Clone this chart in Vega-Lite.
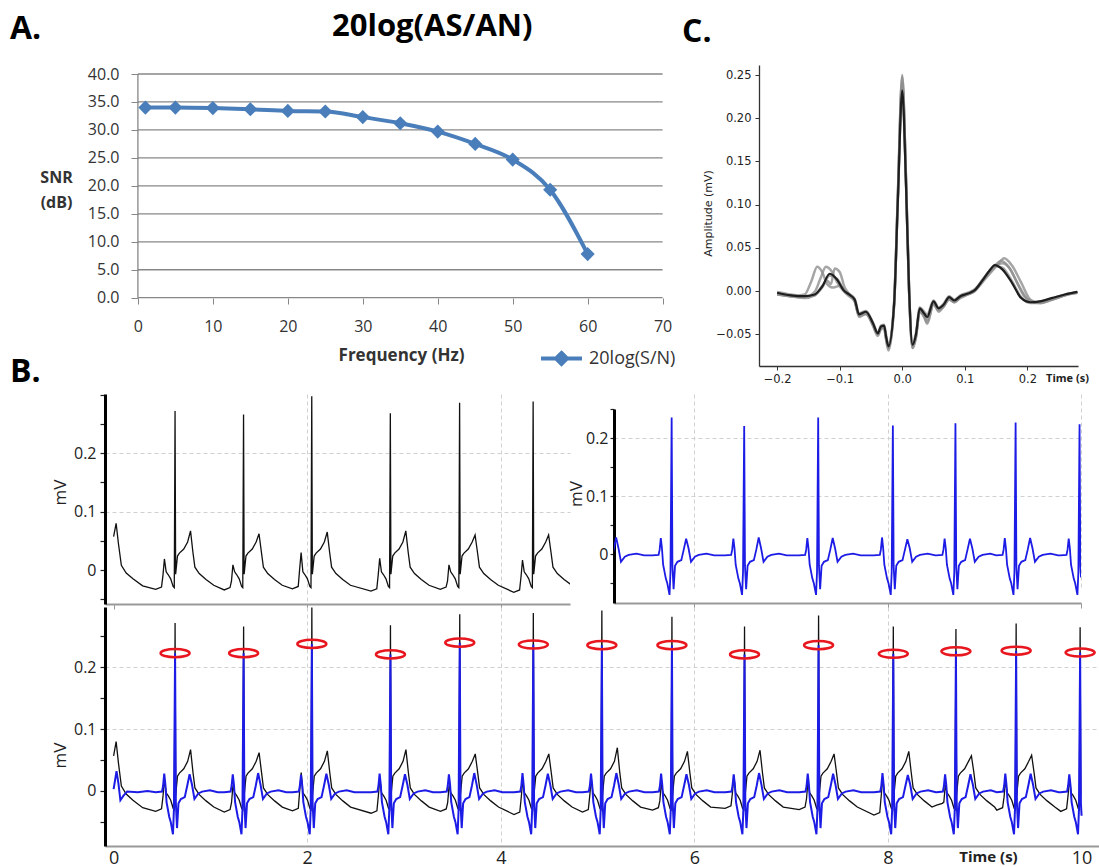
{
"$schema": "https://vega.github.io/schema/vega-lite/v6.json",
"background": "white",
"padding": {"left": 10, "top": 11, "right": 0, "bottom": 0},
"title": {"text": "A.", "anchor": "start", "frame": "bounds", "offset": -59.5, "fontSize": 32, "fontWeight": "bold", "font": "Open Sans", "baseline": "alphabetic", "color": "#000"},
"columns": 2,
"align": "none",
"bounds": "flush",
"spacing": {"row": 3, "column": 44},
"config": {"view": {"stroke": null}, "font": "Open Sans", "axis": {"labelFlush": false, "labelOverlap": false, "labelFont": "Open Sans", "titleFont": "Open Sans"}},
"datasets": {
"snr": [
{"f":1,"snr":34.0,"s":"20log(S/N)"},{"f":5,"snr":34.0,"s":"20log(S/N)"},{"f":10,"snr":33.9,"s":"20log(S/N)"},{"f":15,"snr":33.7,"s":"20log(S/N)"},{"f":20,"snr":33.4,"s":"20log(S/N)"},{"f":25,"snr":33.3,"s":"20log(S/N)"},{"f":30,"snr":32.3,"s":"20log(S/N)"},{"f":35,"snr":31.2,"s":"20log(S/N)"},{"f":40,"snr":29.7,"s":"20log(S/N)"},{"f":45,"snr":27.5,"s":"20log(S/N)"},{"f":50,"snr":24.7,"s":"20log(S/N)"},{"f":55,"snr":19.3,"s":"20log(S/N)"},{"f":60,"snr":7.8,"s":"20log(S/N)"}
],
"beats": [
{"t":0.635,"v":0.223},{"t":1.343,"v":0.223},{"t":2.048,"v":0.238},{"t":2.86,"v":0.221},{"t":3.576,"v":0.24},{"t":4.336,"v":0.237},{"t":5.044,"v":0.236},{"t":5.768,"v":0.236},{"t":6.518,"v":0.221},{"t":7.283,"v":0.236},{"t":8.055,"v":0.222},{"t":8.702,"v":0.226},{"t":9.324,"v":0.227},{"t":9.985,"v":0.224}
],
"blk": [
{"t":0,"v":0.057},{"t":0.026,"v":0.08},{"t":0.05,"v":0.045},{"t":0.08,"v":0.008},{"t":0.13,"v":-0.005},{"t":0.2,"v":-0.015},{"t":0.3,"v":-0.027},
{"t":0.435,"v":-0.033},{"t":0.495,"v":-0.029},{"t":0.51,"v":-0.009},{"t":0.525,"v":0.019},{"t":0.543,"v":-0.003},{"t":0.565,"v":-0.008},{"t":0.59,"v":-0.015},{"t":0.615,"v":-0.028},{"t":0.627,"v":-0.03},{"t":0.635,"v":0.272},{"t":0.641,"v":-0.007},{"t":0.66,"v":0.024},{"t":0.68,"v":0.029},{"t":0.725,"v":0.036},{"t":0.765,"v":0.048},{"t":0.795,"v":0.067},{"t":0.82,"v":0.03},{"t":0.84,"v":0.005},{"t":0.885,"v":-0.006},{"t":0.955,"v":-0.016},{"t":1.035,"v":-0.026},
{"t":1.143,"v":-0.034},{"t":1.203,"v":-0.03},{"t":1.218,"v":-0.019},{"t":1.233,"v":0.009},{"t":1.251,"v":-0.003},{"t":1.273,"v":-0.008},{"t":1.298,"v":-0.015},{"t":1.323,"v":-0.028},{"t":1.335,"v":-0.03},{"t":1.343,"v":0.266},{"t":1.349,"v":-0.007},{"t":1.368,"v":0.024},{"t":1.388,"v":0.029},{"t":1.433,"v":0.036},{"t":1.473,"v":0.048},{"t":1.503,"v":0.062},{"t":1.528,"v":0.03},{"t":1.548,"v":0.005},{"t":1.593,"v":-0.006},{"t":1.663,"v":-0.016},{"t":1.743,"v":-0.026},
{"t":1.848,"v":-0.032},{"t":1.908,"v":-0.028},{"t":1.923,"v":0.002},{"t":1.938,"v":0.03},{"t":1.956,"v":-0.003},{"t":1.978,"v":-0.008},{"t":2.003,"v":-0.015},{"t":2.028,"v":-0.028},{"t":2.04,"v":-0.03},{"t":2.048,"v":0.297},{"t":2.054,"v":-0.007},{"t":2.073,"v":0.024},{"t":2.093,"v":0.029},{"t":2.138,"v":0.036},{"t":2.178,"v":0.048},{"t":2.208,"v":0.065},{"t":2.233,"v":0.03},{"t":2.253,"v":0.005},{"t":2.298,"v":-0.006},{"t":2.368,"v":-0.016},{"t":2.448,"v":-0.026},
{"t":2.66,"v":-0.036},{"t":2.72,"v":-0.032},{"t":2.735,"v":-0.008},{"t":2.75,"v":0.02},{"t":2.768,"v":-0.003},{"t":2.79,"v":-0.008},{"t":2.815,"v":-0.015},{"t":2.84,"v":-0.028},{"t":2.852,"v":-0.03},{"t":2.86,"v":0.268},{"t":2.866,"v":-0.007},{"t":2.885,"v":0.024},{"t":2.905,"v":0.029},{"t":2.95,"v":0.036},{"t":2.99,"v":0.048},{"t":3.02,"v":0.067},{"t":3.045,"v":0.03},{"t":3.065,"v":0.005},{"t":3.11,"v":-0.006},{"t":3.18,"v":-0.016},{"t":3.26,"v":-0.026},
{"t":3.376,"v":-0.033},{"t":3.436,"v":-0.029},{"t":3.451,"v":-0.019},{"t":3.466,"v":0.009},{"t":3.484,"v":-0.003},{"t":3.506,"v":-0.008},{"t":3.531,"v":-0.015},{"t":3.556,"v":-0.028},{"t":3.568,"v":-0.03},{"t":3.576,"v":0.286},{"t":3.582,"v":-0.007},{"t":3.601,"v":0.024},{"t":3.621,"v":0.029},{"t":3.666,"v":0.036},{"t":3.706,"v":0.048},{"t":3.736,"v":0.06},{"t":3.761,"v":0.03},{"t":3.781,"v":0.005},{"t":3.826,"v":-0.006},{"t":3.896,"v":-0.016},{"t":3.976,"v":-0.026},
{"t":4.136,"v":-0.038},{"t":4.196,"v":-0.034},{"t":4.211,"v":-0.011},{"t":4.226,"v":0.017},{"t":4.244,"v":-0.003},{"t":4.266,"v":-0.008},{"t":4.291,"v":-0.015},{"t":4.316,"v":-0.028},{"t":4.328,"v":-0.03},{"t":4.336,"v":0.288},{"t":4.342,"v":-0.007},{"t":4.361,"v":0.024},{"t":4.381,"v":0.029},{"t":4.426,"v":0.036},{"t":4.466,"v":0.048},{"t":4.496,"v":0.06},{"t":4.521,"v":0.03},{"t":4.541,"v":0.005},{"t":4.586,"v":-0.006},{"t":4.656,"v":-0.016},{"t":4.736,"v":-0.026},
{"t":4.844,"v":-0.034},{"t":4.904,"v":-0.03},{"t":4.919,"v":-0.008},{"t":4.934,"v":0.02},{"t":4.952,"v":-0.003},{"t":4.974,"v":-0.008},{"t":4.999,"v":-0.015},{"t":5.024,"v":-0.028},{"t":5.036,"v":-0.03},{"t":5.044,"v":0.292},{"t":5.05,"v":-0.007},{"t":5.069,"v":0.024},{"t":5.089,"v":0.029},{"t":5.134,"v":0.036},{"t":5.174,"v":0.048},{"t":5.204,"v":0.07},{"t":5.229,"v":0.03},{"t":5.249,"v":0.005},{"t":5.294,"v":-0.006},{"t":5.364,"v":-0.016},{"t":5.444,"v":-0.026},
{"t":5.568,"v":-0.031},{"t":5.628,"v":-0.027},{"t":5.643,"v":-0.016},{"t":5.658,"v":0.012},{"t":5.676,"v":-0.003},{"t":5.698,"v":-0.008},{"t":5.723,"v":-0.015},{"t":5.748,"v":-0.028},{"t":5.76,"v":-0.03},{"t":5.768,"v":0.282},{"t":5.774,"v":-0.007},{"t":5.793,"v":0.024},{"t":5.813,"v":0.029},{"t":5.858,"v":0.036},{"t":5.898,"v":0.048},{"t":5.928,"v":0.064},{"t":5.953,"v":0.03},{"t":5.973,"v":0.005},{"t":6.018,"v":-0.006},{"t":6.088,"v":-0.016},{"t":6.168,"v":-0.026},
{"t":6.318,"v":-0.028},{"t":6.378,"v":-0.024},{"t":6.393,"v":-0.003},{"t":6.408,"v":0.025},{"t":6.426,"v":-0.003},{"t":6.448,"v":-0.008},{"t":6.473,"v":-0.015},{"t":6.498,"v":-0.028},{"t":6.51,"v":-0.03},{"t":6.518,"v":0.266},{"t":6.524,"v":-0.007},{"t":6.543,"v":0.024},{"t":6.563,"v":0.029},{"t":6.608,"v":0.036},{"t":6.648,"v":0.048},{"t":6.678,"v":0.066},{"t":6.703,"v":0.03},{"t":6.723,"v":0.005},{"t":6.768,"v":-0.006},{"t":6.838,"v":-0.016},{"t":6.918,"v":-0.026},
{"t":7.083,"v":-0.03},{"t":7.143,"v":-0.026},{"t":7.158,"v":-0.013},{"t":7.173,"v":0.015},{"t":7.191,"v":-0.003},{"t":7.213,"v":-0.008},{"t":7.238,"v":-0.015},{"t":7.263,"v":-0.028},{"t":7.275,"v":-0.03},{"t":7.283,"v":0.284},{"t":7.289,"v":-0.007},{"t":7.308,"v":0.024},{"t":7.328,"v":0.029},{"t":7.373,"v":0.036},{"t":7.413,"v":0.048},{"t":7.443,"v":0.06},{"t":7.468,"v":0.03},{"t":7.488,"v":0.005},{"t":7.533,"v":-0.006},{"t":7.603,"v":-0.016},{"t":7.683,"v":-0.026},
{"t":7.855,"v":-0.039},{"t":7.915,"v":-0.035},{"t":7.93,"v":-0.008},{"t":7.945,"v":0.02},{"t":7.963,"v":-0.003},{"t":7.985,"v":-0.008},{"t":8.01,"v":-0.015},{"t":8.035,"v":-0.028},{"t":8.047,"v":-0.03},{"t":8.055,"v":0.266},{"t":8.061,"v":-0.007},{"t":8.08,"v":0.024},{"t":8.1,"v":0.029},{"t":8.145,"v":0.036},{"t":8.185,"v":0.048},{"t":8.215,"v":0.064},{"t":8.24,"v":0.03},{"t":8.26,"v":0.005},{"t":8.305,"v":-0.006},{"t":8.375,"v":-0.016},{"t":8.455,"v":-0.026},
{"t":8.502,"v":-0.023},{"t":8.562,"v":-0.02},{"t":8.577,"v":-0.018},{"t":8.592,"v":0.01},{"t":8.61,"v":-0.003},{"t":8.632,"v":-0.008},{"t":8.657,"v":-0.015},{"t":8.682,"v":-0.028},{"t":8.694,"v":-0.03},{"t":8.702,"v":0.262},{"t":8.708,"v":-0.007},{"t":8.727,"v":0.024},{"t":8.747,"v":0.029},{"t":8.792,"v":0.036},{"t":8.832,"v":0.048},{"t":8.862,"v":0.057},{"t":8.887,"v":0.03},{"t":8.907,"v":0.005},{"t":8.952,"v":-0.006},{"t":9.022,"v":-0.016},{"t":9.102,"v":-0.026},
{"t":9.124,"v":-0.031},{"t":9.184,"v":-0.027},{"t":9.199,"v":-0.01},{"t":9.214,"v":0.018},{"t":9.232,"v":-0.003},{"t":9.254,"v":-0.008},{"t":9.279,"v":-0.015},{"t":9.304,"v":-0.028},{"t":9.316,"v":-0.03},{"t":9.324,"v":0.271},{"t":9.33,"v":-0.007},{"t":9.349,"v":0.024},{"t":9.369,"v":0.029},{"t":9.414,"v":0.036},{"t":9.454,"v":0.048},{"t":9.484,"v":0.058},{"t":9.509,"v":0.03},{"t":9.529,"v":0.005},{"t":9.574,"v":-0.006},{"t":9.644,"v":-0.016},{"t":9.724,"v":-0.026},
{"t":9.785,"v":-0.033},{"t":9.845,"v":-0.029},{"t":9.86,"v":-0.008},{"t":9.875,"v":0.02},{"t":9.893,"v":-0.003},{"t":9.915,"v":-0.008},{"t":9.94,"v":-0.015},{"t":9.965,"v":-0.028},{"t":9.977,"v":-0.03},{"t":9.985,"v":0.265},{"t":9.991,"v":-0.007}
],
"blu": [
{"t":0,"v":0.003},{"t":0.03,"v":0.032},{"t":0.05,"v":0.012},{"t":0.07,"v":-0.015},{"t":0.1,"v":-0.008},{"t":0.14,"v":-0.001},{"t":0.25,"v":-0.002},{"t":0.35,"v":0.0},
{"t":0.435,"v":-0.002},{"t":0.5,"v":-0.001},{"t":0.511,"v":0.008},{"t":0.523,"v":0.028},{"t":0.535,"v":0.01},{"t":0.547,"v":-0.018},{"t":0.575,"v":-0.042},{"t":0.59,"v":-0.05},{"t":0.613,"v":-0.07},{"t":0.623,"v":-0.03},{"t":0.635,"v":0.223},{"t":0.643,"v":-0.02},{"t":0.655,"v":-0.06},{"t":0.67,"v":-0.02},{"t":0.695,"v":-0.013},{"t":0.735,"v":-0.01},{"t":0.76,"v":0.008},{"t":0.785,"v":0.027},{"t":0.81,"v":0.01},{"t":0.835,"v":-0.013},{"t":0.875,"v":-0.004},{"t":0.915,"v":-0.001},{"t":0.995,"v":0.001},{"t":1.075,"v":-0.002},
{"t":1.143,"v":-0.002},{"t":1.208,"v":-0.001},{"t":1.219,"v":0.008},{"t":1.231,"v":0.027},{"t":1.243,"v":0.01},{"t":1.255,"v":-0.018},{"t":1.283,"v":-0.042},{"t":1.298,"v":-0.05},{"t":1.321,"v":-0.07},{"t":1.331,"v":-0.03},{"t":1.343,"v":0.223},{"t":1.351,"v":-0.02},{"t":1.363,"v":-0.06},{"t":1.378,"v":-0.02},{"t":1.403,"v":-0.013},{"t":1.443,"v":-0.01},{"t":1.468,"v":0.008},{"t":1.493,"v":0.029},{"t":1.518,"v":0.01},{"t":1.543,"v":-0.013},{"t":1.583,"v":-0.004},{"t":1.623,"v":-0.001},{"t":1.703,"v":0.001},{"t":1.783,"v":-0.002},
{"t":1.848,"v":-0.002},{"t":1.913,"v":-0.001},{"t":1.924,"v":0.008},{"t":1.936,"v":0.026},{"t":1.948,"v":0.01},{"t":1.96,"v":-0.018},{"t":1.988,"v":-0.042},{"t":2.003,"v":-0.05},{"t":2.026,"v":-0.07},{"t":2.036,"v":-0.03},{"t":2.048,"v":0.238},{"t":2.056,"v":-0.02},{"t":2.068,"v":-0.06},{"t":2.083,"v":-0.02},{"t":2.108,"v":-0.013},{"t":2.148,"v":-0.01},{"t":2.173,"v":0.008},{"t":2.198,"v":0.028},{"t":2.223,"v":0.01},{"t":2.248,"v":-0.013},{"t":2.288,"v":-0.004},{"t":2.328,"v":-0.001},{"t":2.408,"v":0.001},{"t":2.488,"v":-0.002},
{"t":2.66,"v":-0.002},{"t":2.725,"v":-0.001},{"t":2.736,"v":0.008},{"t":2.748,"v":0.028},{"t":2.76,"v":0.01},{"t":2.772,"v":-0.018},{"t":2.8,"v":-0.042},{"t":2.815,"v":-0.05},{"t":2.838,"v":-0.07},{"t":2.848,"v":-0.03},{"t":2.86,"v":0.221},{"t":2.868,"v":-0.02},{"t":2.88,"v":-0.06},{"t":2.895,"v":-0.02},{"t":2.92,"v":-0.013},{"t":2.96,"v":-0.01},{"t":2.985,"v":0.008},{"t":3.01,"v":0.027},{"t":3.035,"v":0.01},{"t":3.06,"v":-0.013},{"t":3.1,"v":-0.004},{"t":3.14,"v":-0.001},{"t":3.22,"v":0.001},{"t":3.3,"v":-0.002},
{"t":3.376,"v":-0.002},{"t":3.441,"v":-0.001},{"t":3.452,"v":0.008},{"t":3.464,"v":0.027},{"t":3.476,"v":0.01},{"t":3.488,"v":-0.018},{"t":3.516,"v":-0.042},{"t":3.531,"v":-0.05},{"t":3.554,"v":-0.07},{"t":3.564,"v":-0.03},{"t":3.576,"v":0.24},{"t":3.584,"v":-0.02},{"t":3.596,"v":-0.06},{"t":3.611,"v":-0.02},{"t":3.636,"v":-0.013},{"t":3.676,"v":-0.01},{"t":3.701,"v":0.008},{"t":3.726,"v":0.029},{"t":3.751,"v":0.01},{"t":3.776,"v":-0.013},{"t":3.816,"v":-0.004},{"t":3.856,"v":-0.001},{"t":3.936,"v":0.001},{"t":4.016,"v":-0.002},
{"t":4.136,"v":-0.002},{"t":4.201,"v":-0.001},{"t":4.212,"v":0.008},{"t":4.224,"v":0.029},{"t":4.236,"v":0.01},{"t":4.248,"v":-0.018},{"t":4.276,"v":-0.042},{"t":4.291,"v":-0.05},{"t":4.314,"v":-0.07},{"t":4.324,"v":-0.03},{"t":4.336,"v":0.237},{"t":4.344,"v":-0.02},{"t":4.356,"v":-0.06},{"t":4.371,"v":-0.02},{"t":4.396,"v":-0.013},{"t":4.436,"v":-0.01},{"t":4.461,"v":0.008},{"t":4.486,"v":0.028},{"t":4.511,"v":0.01},{"t":4.536,"v":-0.013},{"t":4.576,"v":-0.004},{"t":4.616,"v":-0.001},{"t":4.696,"v":0.001},{"t":4.776,"v":-0.002},
{"t":4.844,"v":-0.002},{"t":4.909,"v":-0.001},{"t":4.92,"v":0.008},{"t":4.932,"v":0.028},{"t":4.944,"v":0.01},{"t":4.956,"v":-0.018},{"t":4.984,"v":-0.042},{"t":4.999,"v":-0.05},{"t":5.022,"v":-0.07},{"t":5.032,"v":-0.03},{"t":5.044,"v":0.236},{"t":5.052,"v":-0.02},{"t":5.064,"v":-0.06},{"t":5.079,"v":-0.02},{"t":5.104,"v":-0.013},{"t":5.144,"v":-0.01},{"t":5.169,"v":0.008},{"t":5.194,"v":0.029},{"t":5.219,"v":0.01},{"t":5.244,"v":-0.013},{"t":5.284,"v":-0.004},{"t":5.324,"v":-0.001},{"t":5.404,"v":0.001},{"t":5.484,"v":-0.002},
{"t":5.568,"v":-0.002},{"t":5.633,"v":-0.001},{"t":5.644,"v":0.008},{"t":5.656,"v":0.028},{"t":5.668,"v":0.01},{"t":5.68,"v":-0.018},{"t":5.708,"v":-0.042},{"t":5.723,"v":-0.05},{"t":5.746,"v":-0.07},{"t":5.756,"v":-0.03},{"t":5.768,"v":0.236},{"t":5.776,"v":-0.02},{"t":5.788,"v":-0.06},{"t":5.803,"v":-0.02},{"t":5.828,"v":-0.013},{"t":5.868,"v":-0.01},{"t":5.893,"v":0.008},{"t":5.918,"v":0.027},{"t":5.943,"v":0.01},{"t":5.968,"v":-0.013},{"t":6.008,"v":-0.004},{"t":6.048,"v":-0.001},{"t":6.128,"v":0.001},{"t":6.208,"v":-0.002},
{"t":6.318,"v":-0.002},{"t":6.383,"v":-0.001},{"t":6.394,"v":0.008},{"t":6.406,"v":0.027},{"t":6.418,"v":0.01},{"t":6.43,"v":-0.018},{"t":6.458,"v":-0.042},{"t":6.473,"v":-0.05},{"t":6.496,"v":-0.07},{"t":6.506,"v":-0.03},{"t":6.518,"v":0.221},{"t":6.526,"v":-0.02},{"t":6.538,"v":-0.06},{"t":6.553,"v":-0.02},{"t":6.578,"v":-0.013},{"t":6.618,"v":-0.01},{"t":6.643,"v":0.008},{"t":6.668,"v":0.029},{"t":6.693,"v":0.01},{"t":6.718,"v":-0.013},{"t":6.758,"v":-0.004},{"t":6.798,"v":-0.001},{"t":6.878,"v":0.001},{"t":6.958,"v":-0.002},
{"t":7.083,"v":-0.002},{"t":7.148,"v":-0.001},{"t":7.159,"v":0.008},{"t":7.171,"v":0.028},{"t":7.183,"v":0.01},{"t":7.195,"v":-0.018},{"t":7.223,"v":-0.042},{"t":7.238,"v":-0.05},{"t":7.261,"v":-0.07},{"t":7.271,"v":-0.03},{"t":7.283,"v":0.236},{"t":7.291,"v":-0.02},{"t":7.303,"v":-0.06},{"t":7.318,"v":-0.02},{"t":7.343,"v":-0.013},{"t":7.383,"v":-0.01},{"t":7.408,"v":0.008},{"t":7.433,"v":0.028},{"t":7.458,"v":0.01},{"t":7.483,"v":-0.013},{"t":7.523,"v":-0.004},{"t":7.563,"v":-0.001},{"t":7.643,"v":0.001},{"t":7.723,"v":-0.002},
{"t":7.855,"v":-0.002},{"t":7.92,"v":-0.001},{"t":7.931,"v":0.008},{"t":7.943,"v":0.029},{"t":7.955,"v":0.01},{"t":7.967,"v":-0.018},{"t":7.995,"v":-0.042},{"t":8.01,"v":-0.05},{"t":8.033,"v":-0.07},{"t":8.043,"v":-0.03},{"t":8.055,"v":0.222},{"t":8.063,"v":-0.02},{"t":8.075,"v":-0.06},{"t":8.09,"v":-0.02},{"t":8.115,"v":-0.013},{"t":8.155,"v":-0.01},{"t":8.18,"v":0.008},{"t":8.205,"v":0.026},{"t":8.23,"v":0.01},{"t":8.255,"v":-0.013},{"t":8.295,"v":-0.004},{"t":8.335,"v":-0.001},{"t":8.415,"v":0.001},{"t":8.495,"v":-0.002},
{"t":8.502,"v":-0.002},{"t":8.567,"v":-0.001},{"t":8.578,"v":0.008},{"t":8.59,"v":0.027},{"t":8.602,"v":0.01},{"t":8.614,"v":-0.018},{"t":8.642,"v":-0.042},{"t":8.657,"v":-0.05},{"t":8.68,"v":-0.07},{"t":8.69,"v":-0.03},{"t":8.702,"v":0.226},{"t":8.71,"v":-0.02},{"t":8.722,"v":-0.06},{"t":8.737,"v":-0.02},{"t":8.762,"v":-0.013},{"t":8.802,"v":-0.01},{"t":8.827,"v":0.008},{"t":8.852,"v":0.027},{"t":8.877,"v":0.01},{"t":8.902,"v":-0.013},{"t":8.942,"v":-0.004},{"t":8.982,"v":-0.001},{"t":9.062,"v":0.001},
{"t":9.124,"v":-0.002},{"t":9.189,"v":-0.001},{"t":9.2,"v":0.008},{"t":9.212,"v":0.028},{"t":9.224,"v":0.01},{"t":9.236,"v":-0.018},{"t":9.264,"v":-0.042},{"t":9.279,"v":-0.05},{"t":9.302,"v":-0.07},{"t":9.312,"v":-0.03},{"t":9.324,"v":0.227},{"t":9.332,"v":-0.02},{"t":9.344,"v":-0.06},{"t":9.359,"v":-0.02},{"t":9.384,"v":-0.013},{"t":9.424,"v":-0.01},{"t":9.449,"v":0.008},{"t":9.474,"v":0.028},{"t":9.499,"v":0.01},{"t":9.524,"v":-0.013},{"t":9.564,"v":-0.004},{"t":9.604,"v":-0.001},{"t":9.684,"v":0.001},{"t":9.764,"v":-0.002},
{"t":9.785,"v":-0.002},{"t":9.85,"v":-0.001},{"t":9.861,"v":0.008},{"t":9.873,"v":0.027},{"t":9.885,"v":0.01},{"t":9.897,"v":-0.018},{"t":9.925,"v":-0.042},{"t":9.94,"v":-0.05},{"t":9.963,"v":-0.07},{"t":9.973,"v":-0.03},{"t":9.985,"v":0.224},{"t":9.993,"v":-0.02},{"t":10.0,"v":-0.04}
],
"mean": [
{"t":-0.2,"v":-0.002},{"t":-0.178,"v":-0.005},{"t":-0.156,"v":-0.006},{"t":-0.14,"v":-0.004},{"t":-0.128,"v":0.005},{"t":-0.116,"v":0.02},{"t":-0.104,"v":0.013},{"t":-0.094,"v":0.001},{"t":-0.085,"v":-0.004},{"t":-0.076,"v":-0.01},{"t":-0.069,"v":-0.027},{"t":-0.058,"v":-0.024},{"t":-0.047,"v":-0.037},{"t":-0.039,"v":-0.049},{"t":-0.034,"v":-0.041},{"t":-0.029,"v":-0.04},{"t":-0.026,"v":-0.052},{"t":-0.022,"v":-0.064},{"t":-0.013,"v":-0.015},{"t":-0.007,"v":0.105},{"t":0,"v":0.232},{"t":0.006,"v":0.124},{"t":0.011,"v":0.0},{"t":0.0165,"v":-0.062},{"t":0.022,"v":-0.05},{"t":0.028,"v":-0.02},{"t":0.035,"v":-0.026},{"t":0.04,"v":-0.03},{"t":0.05,"v":-0.012},{"t":0.058,"v":-0.02},{"t":0.066,"v":-0.016},{"t":0.075,"v":-0.007},{"t":0.083,"v":-0.011},{"t":0.093,"v":-0.006},{"t":0.105,"v":-0.003},{"t":0.116,"v":0.001},{"t":0.128,"v":0.012},{"t":0.14,"v":0.024},{"t":0.148,"v":0.03},{"t":0.16,"v":0.025},{"t":0.175,"v":0.01},{"t":0.19,"v":-0.008},{"t":0.205,"v":-0.013},{"t":0.22,"v":-0.012},{"t":0.24,"v":-0.008},{"t":0.26,"v":-0.004},{"t":0.28,"v":-0.001}
],
"avg": [
{"g":1,"t":-0.2,"v":-0.003},{"g":1,"t":-0.178,"v":-0.006},{"g":1,"t":-0.156,"v":-0.004},{"g":1,"t":-0.145,"v":0.012},{"g":1,"t":-0.136,"v":0.028},{"g":1,"t":-0.128,"v":0.022},{"g":1,"t":-0.12,"v":0.008},{"g":1,"t":-0.11,"v":0.004},{"g":1,"t":-0.1,"v":0.006},{"g":1,"t":-0.09,"v":-0.001},{"g":1,"t":-0.076,"v":-0.012},{"g":1,"t":-0.069,"v":-0.028},{"g":1,"t":-0.058,"v":-0.026},{"g":1,"t":-0.047,"v":-0.039},{"g":1,"t":-0.039,"v":-0.05},{"g":1,"t":-0.034,"v":-0.043},{"g":1,"t":-0.029,"v":-0.042},{"g":1,"t":-0.026,"v":-0.054},{"g":1,"t":-0.022,"v":-0.066},{"g":1,"t":-0.013,"v":-0.016},{"g":1,"t":-0.007,"v":0.11},{"g":1,"t":0,"v":0.248},{"g":1,"t":0.006,"v":0.13},{"g":1,"t":0.011,"v":0.0},{"g":1,"t":0.0165,"v":-0.064},{"g":1,"t":0.022,"v":-0.052},{"g":1,"t":0.028,"v":-0.022},{"g":1,"t":0.035,"v":-0.03},{"g":1,"t":0.04,"v":-0.036},{"g":1,"t":0.05,"v":-0.016},{"g":1,"t":0.058,"v":-0.022},{"g":1,"t":0.066,"v":-0.018},{"g":1,"t":0.075,"v":-0.01},{"g":1,"t":0.083,"v":-0.012},{"g":1,"t":0.093,"v":-0.007},{"g":1,"t":0.105,"v":-0.004},{"g":1,"t":0.116,"v":0.0},{"g":1,"t":0.128,"v":0.01},{"g":1,"t":0.14,"v":0.02},{"g":1,"t":0.152,"v":0.03},{"g":1,"t":0.163,"v":0.038},{"g":1,"t":0.175,"v":0.03},{"g":1,"t":0.19,"v":0.01},{"g":1,"t":0.205,"v":-0.01},{"g":1,"t":0.22,"v":-0.014},{"g":1,"t":0.24,"v":-0.01},{"g":1,"t":0.26,"v":-0.005},{"g":1,"t":0.28,"v":-0.001},
{"g":2,"t":-0.2,"v":-0.004},{"g":2,"t":-0.178,"v":-0.006},{"g":2,"t":-0.156,"v":-0.007},{"g":2,"t":-0.14,"v":-0.001},{"g":2,"t":-0.13,"v":0.016},{"g":2,"t":-0.122,"v":0.028},{"g":2,"t":-0.114,"v":0.024},{"g":2,"t":-0.104,"v":0.01},{"g":2,"t":-0.094,"v":0.0},{"g":2,"t":-0.085,"v":-0.006},{"g":2,"t":-0.076,"v":-0.012},{"g":2,"t":-0.069,"v":-0.029},{"g":2,"t":-0.058,"v":-0.027},{"g":2,"t":-0.047,"v":-0.038},{"g":2,"t":-0.039,"v":-0.05},{"g":2,"t":-0.034,"v":-0.044},{"g":2,"t":-0.029,"v":-0.041},{"g":2,"t":-0.026,"v":-0.053},{"g":2,"t":-0.022,"v":-0.066},{"g":2,"t":-0.013,"v":-0.014},{"g":2,"t":-0.007,"v":0.108},{"g":2,"t":0,"v":0.242},{"g":2,"t":0.006,"v":0.128},{"g":2,"t":0.011,"v":0.0},{"g":2,"t":0.0165,"v":-0.066},{"g":2,"t":0.022,"v":-0.052},{"g":2,"t":0.028,"v":-0.024},{"g":2,"t":0.035,"v":-0.03},{"g":2,"t":0.04,"v":-0.038},{"g":2,"t":0.05,"v":-0.014},{"g":2,"t":0.058,"v":-0.024},{"g":2,"t":0.066,"v":-0.018},{"g":2,"t":0.075,"v":-0.009},{"g":2,"t":0.083,"v":-0.013},{"g":2,"t":0.093,"v":-0.007},{"g":2,"t":0.105,"v":-0.003},{"g":2,"t":0.116,"v":0.001},{"g":2,"t":0.128,"v":0.013},{"g":2,"t":0.14,"v":0.024},{"g":2,"t":0.15,"v":0.031},{"g":2,"t":0.158,"v":0.035},{"g":2,"t":0.17,"v":0.028},{"g":2,"t":0.182,"v":0.012},{"g":2,"t":0.195,"v":-0.006},{"g":2,"t":0.21,"v":-0.013},{"g":2,"t":0.23,"v":-0.011},{"g":2,"t":0.25,"v":-0.007},{"g":2,"t":0.27,"v":-0.003},{"g":2,"t":0.28,"v":-0.002},
{"g":3,"t":-0.2,"v":-0.001},{"g":3,"t":-0.178,"v":-0.004},{"g":3,"t":-0.156,"v":-0.006},{"g":3,"t":-0.14,"v":-0.005},{"g":3,"t":-0.128,"v":0.006},{"g":3,"t":-0.12,"v":0.012},{"g":3,"t":-0.114,"v":0.008},{"g":3,"t":-0.108,"v":0.026},{"g":3,"t":-0.1,"v":0.022},{"g":3,"t":-0.092,"v":0.004},{"g":3,"t":-0.085,"v":-0.003},{"g":3,"t":-0.076,"v":-0.009},{"g":3,"t":-0.069,"v":-0.026},{"g":3,"t":-0.058,"v":-0.023},{"g":3,"t":-0.047,"v":-0.036},{"g":3,"t":-0.039,"v":-0.048},{"g":3,"t":-0.034,"v":-0.04},{"g":3,"t":-0.029,"v":-0.039},{"g":3,"t":-0.026,"v":-0.05},{"g":3,"t":-0.022,"v":-0.063},{"g":3,"t":-0.013,"v":-0.013},{"g":3,"t":-0.007,"v":0.106},{"g":3,"t":0,"v":0.238},{"g":3,"t":0.006,"v":0.126},{"g":3,"t":0.011,"v":0.0},{"g":3,"t":0.0165,"v":-0.061},{"g":3,"t":0.022,"v":-0.048},{"g":3,"t":0.028,"v":-0.019},{"g":3,"t":0.035,"v":-0.024},{"g":3,"t":0.04,"v":-0.027},{"g":3,"t":0.05,"v":-0.011},{"g":3,"t":0.058,"v":-0.019},{"g":3,"t":0.066,"v":-0.015},{"g":3,"t":0.075,"v":-0.006},{"g":3,"t":0.083,"v":-0.01},{"g":3,"t":0.093,"v":-0.005},{"g":3,"t":0.105,"v":-0.002},{"g":3,"t":0.116,"v":0.002},{"g":3,"t":0.128,"v":0.012},{"g":3,"t":0.14,"v":0.022},{"g":3,"t":0.15,"v":0.029},{"g":3,"t":0.16,"v":0.032},{"g":3,"t":0.172,"v":0.026},{"g":3,"t":0.185,"v":0.008},{"g":3,"t":0.2,"v":-0.009},{"g":3,"t":0.215,"v":-0.013},{"g":3,"t":0.235,"v":-0.01},{"g":3,"t":0.255,"v":-0.005},{"g":3,"t":0.28,"v":-0.001},
{"g":4,"t":-0.2,"v":-0.004},{"g":4,"t":-0.178,"v":-0.006},{"g":4,"t":-0.156,"v":-0.008},{"g":4,"t":-0.14,"v":-0.005},{"g":4,"t":-0.128,"v":0.004},{"g":4,"t":-0.116,"v":0.018},{"g":4,"t":-0.104,"v":0.014},{"g":4,"t":-0.094,"v":0.002},{"g":4,"t":-0.085,"v":-0.005},{"g":4,"t":-0.076,"v":-0.011},{"g":4,"t":-0.069,"v":-0.03},{"g":4,"t":-0.058,"v":-0.026},{"g":4,"t":-0.047,"v":-0.04},{"g":4,"t":-0.039,"v":-0.052},{"g":4,"t":-0.034,"v":-0.044},{"g":4,"t":-0.029,"v":-0.043},{"g":4,"t":-0.026,"v":-0.056},{"g":4,"t":-0.022,"v":-0.069},{"g":4,"t":-0.013,"v":-0.017},{"g":4,"t":-0.007,"v":0.112},{"g":4,"t":0,"v":0.25},{"g":4,"t":0.006,"v":0.13},{"g":4,"t":0.011,"v":-0.002},{"g":4,"t":0.0165,"v":-0.066},{"g":4,"t":0.022,"v":-0.054},{"g":4,"t":0.028,"v":-0.023},{"g":4,"t":0.035,"v":-0.028},{"g":4,"t":0.04,"v":-0.033},{"g":4,"t":0.05,"v":-0.014},{"g":4,"t":0.058,"v":-0.022},{"g":4,"t":0.066,"v":-0.018},{"g":4,"t":0.075,"v":-0.009},{"g":4,"t":0.083,"v":-0.013},{"g":4,"t":0.093,"v":-0.008},{"g":4,"t":0.105,"v":-0.004},{"g":4,"t":0.116,"v":0.0},{"g":4,"t":0.128,"v":0.011},{"g":4,"t":0.14,"v":0.023},{"g":4,"t":0.148,"v":0.029},{"g":4,"t":0.16,"v":0.027},{"g":4,"t":0.175,"v":0.012},{"g":4,"t":0.19,"v":-0.007},{"g":4,"t":0.205,"v":-0.014},{"g":4,"t":0.22,"v":-0.014},{"g":4,"t":0.24,"v":-0.01},{"g":4,"t":0.26,"v":-0.005},{"g":4,"t":0.28,"v":-0.002}
]
},
"concat": [
{
"width": 465, "height": 326,
"title": {"text": "20log(AS/AN)", "anchor": "start", "frame": "group", "dx": 227, "offset": -2, "fontSize": 31, "fontWeight": "bold", "font": "Open Sans", "baseline": "alphabetic", "color": "#000"},
"layer": [
{"data": {"values": [{"g":0},{"g":5},{"g":10},{"g":15},{"g":20},{"g":25},{"g":30},{"g":35},{"g":40}]},
 "mark": {"type": "rule", "color": "#878787", "strokeWidth": 1.3},
 "encoding": {
  "y": {"field": "g", "type": "quantitative", "scale": {"domain": [-16.68, 41.61], "nice": false, "zero": false},
        "axis": {"values": [0,5,10,15,20,25,30,35,40], "format": ".1f", "offset": -33, "domain": false, "grid": false, "tickSize": 7, "tickColor": "#878787", "labelFontSize": 16, "labelColor": "#333", "labelPadding": 12, "title": ["SNR", "(dB)"], "titleAngle": 0, "titleFontWeight": "bold", "titleFontSize": 16, "titleColor": "#333", "titleX": -82, "titleY": 104, "titleAlign": "center", "titleBaseline": "top", "titleLineHeight": 25}},
  "x": {"datum": 0, "type": "quantitative", "scale": {"domain": [-4.39, 76.99], "range": [0, 610], "nice": false, "zero": false},
        "axis": {"values": [0,10,20,30,40,50,60,70], "offset": -93, "domain": false, "grid": false, "tickSize": 6, "tickColor": "#878787", "labelFontSize": 16, "labelColor": "#333", "labelPadding": 14, "title": "Frequency (Hz)", "titleFontSize": 17, "titleFontWeight": "bold", "titleColor": "#333", "titleX": 296, "titleY": 57, "titleAlign": "center", "titleBaseline": "middle"}},
  "x2": {"datum": 70}
 }},
{"data": {"values": [{"a":1}]},
 "mark": {"type": "rule", "color": "#878787", "strokeWidth": 1.3},
 "encoding": {"x": {"datum": 0, "type": "quantitative"}, "y": {"datum": 0, "type": "quantitative"}, "y2": {"datum": 40}}},
{"data": {"name": "snr"},
 "mark": {"type": "line", "interpolate": "monotone", "strokeWidth": 4, "color": "#4a7ebb"},
 "encoding": {"x": {"field": "f", "type": "quantitative"}, "y": {"field": "snr", "type": "quantitative"},
  "color": {"field": "s", "type": "nominal", "scale": {"range": ["#4a7ebb"]},
   "legend": {"title": null, "orient": "none", "legendX": 434, "legendY": 271, "symbolType": "M -1 0 L 1 0 M 0 -0.27 L 0.27 0 L 0 0.27 L -0.27 0 Z", "symbolSize": 1681, "symbolStrokeWidth": 4, "symbolFillColor": "#4a7ebb", "symbolStrokeColor": "#4a7ebb", "labelFontSize": 18, "labelFont": "Open Sans", "labelColor": "#333", "labelOffset": 5, "padding": 0}}}},
{"data": {"name": "snr"},
 "mark": {"type": "point", "shape": "diamond", "filled": true, "size": 200, "color": "#4a7ebb", "opacity": 1},
 "encoding": {"x": {"field": "f", "type": "quantitative"}, "y": {"field": "snr", "type": "quantitative"}}}
]
},
{
"width": 464, "height": 301,
"title": {"text": "C.", "anchor": "start", "frame": "group", "dx": 68, "offset": -9, "fontSize": 32, "fontWeight": "bold", "font": "Open Sans", "baseline": "alphabetic", "color": "#000"},
"encoding": {
  "x": {"field": "t", "type": "quantitative", "scale": {"domain": [-0.229, 0.281], "range": [145, 464], "nice": false, "zero": false},
        "axis": {"values": [-0.2,-0.1,0,0.1,0.2], "format": ".1f", "labelFont": "DejaVu Sans", "labelFontSize": 11.5, "labelColor": "#222", "labelPadding": 3, "tickSize": 4, "tickColor": "#333", "domainColor": "#333", "domainWidth": 1.3, "grid": false, "title": "Time (s)", "titleFontSize": 11, "titleFontWeight": "bold", "titleColor": "#222", "titleX": 453, "titleY": 12, "titleAlign": "center", "titleBaseline": "middle"}},
  "y": {"field": "v", "type": "quantitative", "scale": {"domain": [-0.0868, 0.2616], "nice": false, "zero": false},
        "axis": {"values": [-0.05,0,0.05,0.1,0.15,0.2,0.25], "format": ".2f", "offset": -145, "labelFont": "DejaVu Sans", "labelFontSize": 11.5, "labelColor": "#222", "labelPadding": 4, "tickSize": 4, "tickColor": "#333", "domainColor": "#333", "domainWidth": 1.3, "grid": false, "title": "Amplitude (mV)", "titleFont": "DejaVu Sans", "titleFontSize": 11, "titleFontWeight": "normal", "titleColor": "#222", "titleX": -51, "titleY": 148, "titleAlign": "center", "titleBaseline": "middle"}}
},
"layer": [
{"data": {"name": "avg"},
 "mark": {"type": "line", "color": "#8f8f8f", "strokeWidth": 2.5, "opacity": 0.8, "interpolate": "monotone"},
 "encoding": {"detail": {"field": "g", "type": "nominal"}}},
{"data": {"name": "mean"},
 "mark": {"type": "line", "color": "#1e1e1e", "strokeWidth": 2.2, "interpolate": "monotone"}}
]
},
{
"width": 465, "height": 210,
"title": {"text": "B.", "anchor": "start", "frame": "group", "dx": -95, "offset": -27, "fontSize": 32, "fontWeight": "bold", "font": "Open Sans", "baseline": "alphabetic", "color": "#000"},
"data": {"name": "blk"},
"mark": {"type": "line", "color": "#111", "strokeWidth": 1.3, "clip": true},
"encoding": {
 "x": {"field": "t", "type": "quantitative", "scale": {"domain": [-0.089, 4.717], "nice": false, "zero": false},
       "axis": {"values": [0,2,4], "labels": false, "title": null, "domainColor": "#999", "domainWidth": 2, "tickColor": "#999", "tickSize": 5, "grid": true, "gridColor": "#d0d0d0", "gridDash": [4,3], "gridOpacity": {"condition": {"test": "datum.value > 0", "value": 1}, "value": 0}}},
 "y": {"field": "v", "type": "quantitative", "scale": {"domain": [-0.058, 0.301], "nice": false, "zero": false},
       "axis": {"values": [-0.05,0,0.05,0.1,0.15,0.2,0.25,0.3], "labelExpr": "datum.value == 0 ? '0' : datum.value == 0.1 ? '0.1' : datum.value == 0.2 ? '0.2' : ''", "domainColor": "#000", "domainWidth": 3, "tickColor": "#222", "tickSize": 5, "tickWidth": 1.2, "labelFontSize": 16, "labelColor": "#222", "labelPadding": 4, "title": "mV", "titleFontSize": 17, "titleFontWeight": "normal", "titleColor": "#222", "titleX": -45, "titleY": 98, "titleBaseline": "middle", "grid": true, "gridColor": "#d0d0d0", "gridDash": [4,3], "gridOpacity": {"condition": {"test": "datum.value == 0.1 || datum.value == 0.2", "value": 1}, "value": 0}}}
}
},
{
"width": 467, "height": 209,
"data": {"name": "blu"},
"mark": {"type": "line", "color": "#1c1ce6", "strokeWidth": 1.8, "clip": true},
"encoding": {
 "x": {"field": "t", "type": "quantitative", "scale": {"domain": [5.172, 10.0], "nice": false, "zero": false},
       "axis": {"values": [6,8,10], "labels": false, "title": null, "domainColor": "#999", "domainWidth": 2, "tickColor": "#999", "tickSize": 5, "grid": true, "gridColor": "#d0d0d0", "gridDash": [4,3]}},
 "y": {"field": "v", "type": "quantitative", "scale": {"domain": [-0.084, 0.2505], "range": [209, 15], "nice": false, "zero": false},
       "axis": {"values": [-0.05,0,0.05,0.1,0.15,0.2,0.25], "labelExpr": "datum.value == 0 ? '0' : datum.value == 0.1 ? '0.1' : datum.value == 0.2 ? '0.2' : ''", "domainColor": "#000", "domainWidth": 3, "tickColor": "#222", "tickSize": 4, "tickWidth": 1.2, "labelFontSize": 16, "labelColor": "#222", "labelPadding": 2, "title": "mV", "titleFontSize": 17, "titleFontWeight": "normal", "titleColor": "#222", "titleX": -38, "titleY": 99.5, "titleBaseline": "middle", "grid": true, "gridColor": "#d0d0d0", "gridDash": [4,3], "gridOpacity": {"condition": {"test": "datum.value == 0.1 || datum.value == 0.2", "value": 1}, "value": 0}}}
}
},
{
"width": 465, "height": 239,
"encoding": {
  "x": {"field": "t", "type": "quantitative", "scale": {"domain": [-0.089, 10.18], "range": [0, 994], "nice": false, "zero": false},
        "axis": {"values": [0,2,4,6,8,10], "format": "d", "ticks": false, "labelPadding": 3, "labelFontSize": 18, "labelColor": "#222", "domainColor": "#999", "domainWidth": 2, "title": "Time (s)", "titleFontSize": 15, "titleFontWeight": "bold", "titleColor": "#222", "titleX": 883, "titleY": 10, "titleAlign": "center", "titleBaseline": "middle", "grid": true, "gridColor": "#d0d0d0", "gridDash": [4,3], "gridOpacity": {"condition": {"test": "datum.value > 0 && datum.value < 10", "value": 1}, "value": 0}}},
  "y": {"field": "v", "type": "quantitative", "scale": {"domain": [-0.089, 0.2977], "nice": false, "zero": false},
        "axis": {"values": [-0.05,0,0.05,0.1,0.15,0.2,0.25], "labelExpr": "datum.value == 0 ? '0' : datum.value == 0.1 ? '0.1' : datum.value == 0.2 ? '0.2' : ''", "domainColor": "#000", "domainWidth": 3, "tickColor": "#222", "tickSize": 5, "tickWidth": 1.2, "labelFontSize": 16, "labelColor": "#222", "labelPadding": 4, "title": "mV", "titleFontSize": 17, "titleFontWeight": "normal", "titleColor": "#222", "titleX": -45, "titleY": 148, "titleBaseline": "middle", "grid": true, "gridColor": "#d0d0d0", "gridDash": [4,3], "gridOpacity": {"condition": {"test": "datum.value == 0.1 || datum.value == 0.2", "value": 1}, "value": 0}}}
},
"layer": [
{"data": {"name": "blk"},
 "mark": {"type": "line", "color": "#111", "strokeWidth": 1.3}},
{"data": {"name": "blu"},
 "mark": {"type": "line", "color": "#1c1ce6", "strokeWidth": 2}},
{"data": {"name": "beats"},
 "mark": {"type": "point", "shape": "M -1 0 A 1 0.28 0 1 0 1 0 A 1 0.28 0 1 0 -1 0 Z", "size": 841, "filled": false, "stroke": "#e8161e", "strokeWidth": 2.5, "opacity": 1}}
]
}
]
}
